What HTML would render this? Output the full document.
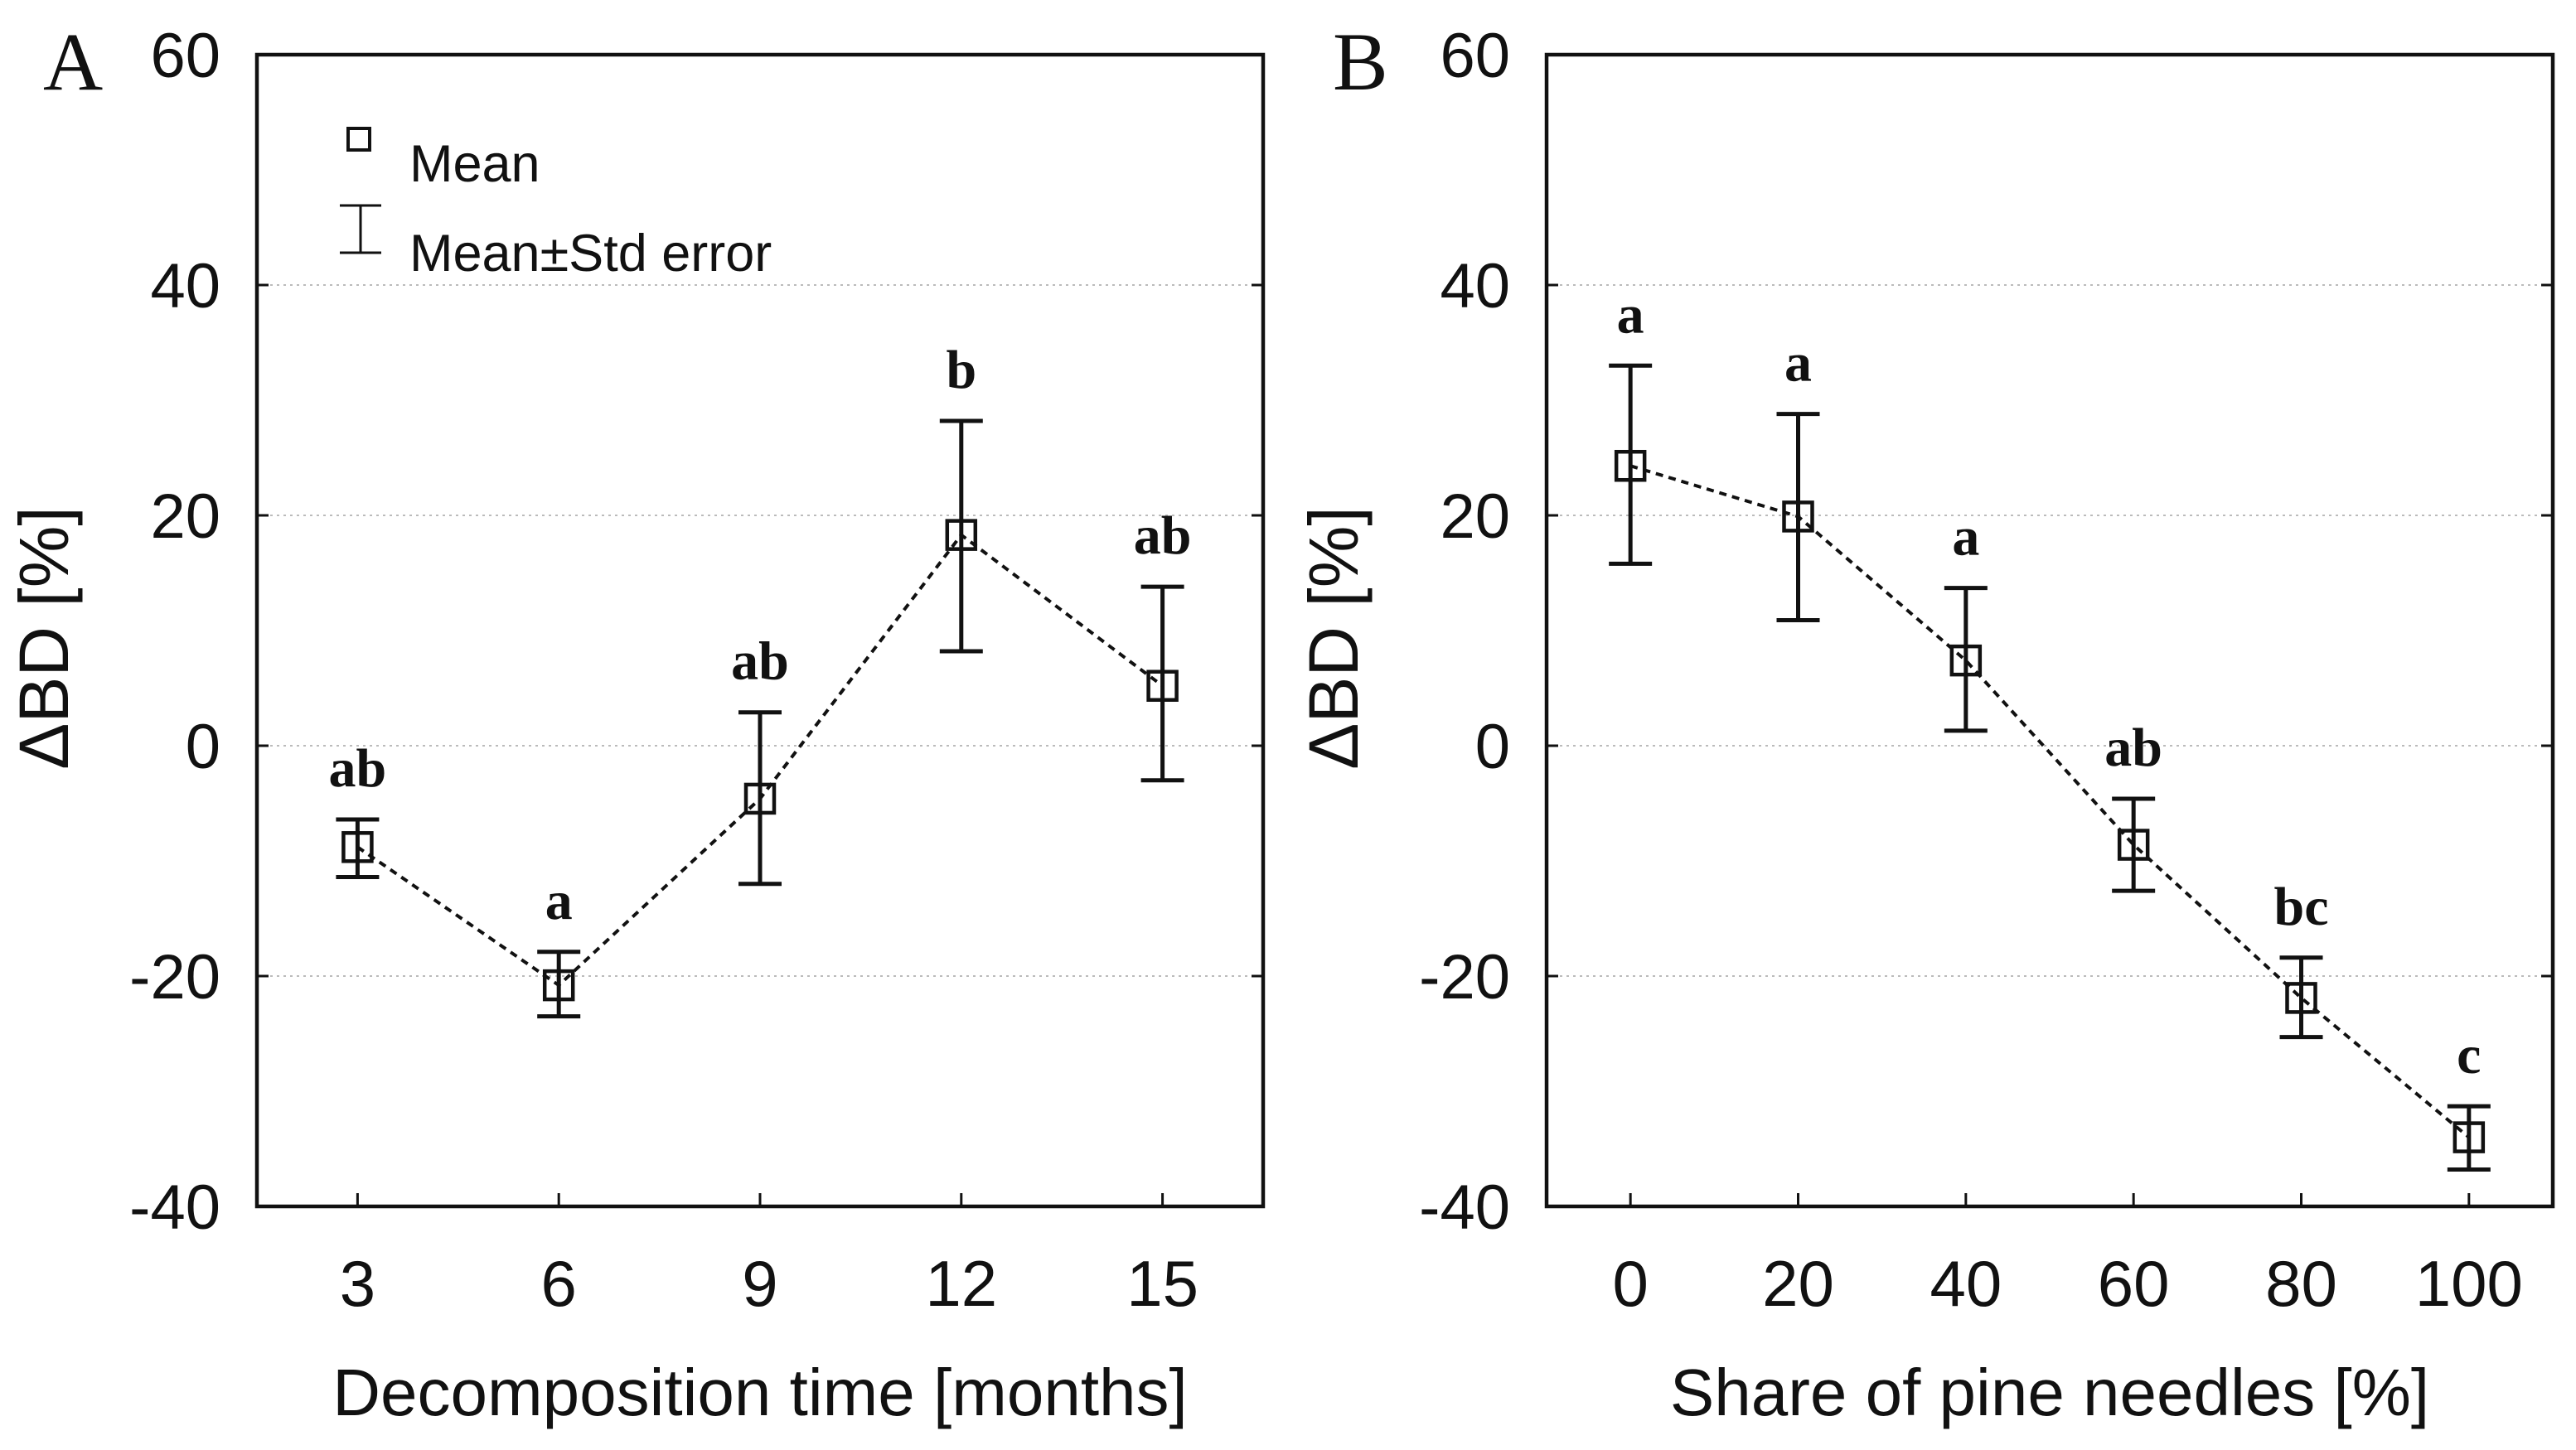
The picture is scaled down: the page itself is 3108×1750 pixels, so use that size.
<!DOCTYPE html>
<html><head><meta charset="utf-8"><style>
html,body{margin:0;padding:0;background:#fff}
svg text{font-family:"Liberation Sans",sans-serif;fill:#111}
</style></head><body>
<svg id="fig" width="3108" height="1745" viewBox="0 0 3108 1745" xmlns="http://www.w3.org/2000/svg"></svg>
<script>
const catsA = [3, 6, 9, 12, 15];
const meanA = [-8.8, -20.8, -4.6, 18.3, 5.2];
const hiA = [-6.4, -17.9, 2.9, 28.2, 13.8];
const loA = [-11.4, -23.5, -12.0, 8.2, -3.0];
const lettersA = ["ab", "a", "ab", "b", "ab"];
const catsB = [0, 20, 40, 60, 80, 100];
const meanB = [24.3, 19.9, 7.4, -8.6, -21.9, -34.0];
const hiB = [33.0, 28.8, 13.7, -4.6, -18.4, -31.3];
const loB = [15.8, 10.9, 1.3, -12.6, -25.3, -36.8];
const lettersB = ["a", "a", "a", "ab", "bc", "c"];
const yTicks = [60, 40, 20, 0, -20, -40];
const gridVals = [40, 20, 0, -20];

const NS = "http://www.w3.org/2000/svg";
const svg = document.getElementById('fig');
function mk(tag, attrs, parent, txt){
  const e = document.createElementNS(NS, tag);
  for (const k in attrs) e.setAttribute(k, attrs[k]);
  if (txt !== undefined) e.textContent = txt;
  (parent || svg).appendChild(e);
  return e;
}

function panel(opts){
  const g = mk('g', {});
  
  
  const L = opts.left, R = opts.right, T = 66, B = 1456;
  const xS = v => L + (v - opts.xmin) / (opts.xmax - opts.xmin) * (R - L);
  const yS = v => B - (v + 40) / 100 * (B - T);
  gridVals.forEach(v => {
    const l = mk('line', {x1: L, x2: R, y1: yS(v), y2: yS(v), stroke: '#bbb', 'stroke-width': 2, 'stroke-dasharray': '3 5'}, g);
    
    
  });
  const fr = mk('rect', {x: L, y: T, width: R - L, height: B - T, fill: 'none', stroke: '#111', 'stroke-width': 4.5}, g);
  
  
  yTicks.forEach(v => {
    mk('line', {x1: L, x2: L + 14, y1: yS(v), y2: yS(v), stroke: '#111', 'stroke-width': 3}, g);
    mk('line', {x1: R - 14, x2: R, y1: yS(v), y2: yS(v), stroke: '#111', 'stroke-width': 3}, g);
    const t = mk('text', {x: L - 44, y: yS(v) + 27, 'text-anchor': 'end', 'font-size': 76}, g, String(v));
    
    
  });
  opts.cats.forEach(c => {
    mk('line', {x1: xS(c), x2: xS(c), y1: B, y2: B - 16, stroke: '#111', 'stroke-width': 3}, g);
    const t = mk('text', {x: xS(c), y: 1576, 'text-anchor': 'middle', 'font-size': 78}, g, String(c));
    
    
  });
  const xt = mk('text', {x: (L + R) / 2, y: 1708, 'text-anchor': 'middle', 'font-size': 80}, g, opts.xtitle);
  
  
  const yx = L - 228, yy = 770;
  const yt = mk('text', {x: yx, y: yy, 'text-anchor': 'middle', 'font-size': 84, transform: `rotate(-90 ${yx} ${yy})`}, g, 'ΔBD [%]');
  
  
  const pl = mk('text', {x: L - 258, y: 108, 'font-size': 100, style: 'font-family:"Liberation Serif",serif'}, g, opts.letter);
  
  
  const pts = opts.cats.map((c, i) => xS(c) + ',' + yS(opts.mean[i])).join(' ');
  const pline = mk('polyline', {points: pts, fill: 'none', stroke: '#111', 'stroke-width': 4, 'stroke-dasharray': '9 7'}, g);
  
  
  opts.cats.forEach((c, i) => {
    const x = xS(c), eg = mk('g', {}, g);
    
    
    mk('line', {x1: x, x2: x, y1: yS(opts.hi[i]), y2: yS(opts.lo[i]), stroke: '#111', 'stroke-width': 5}, eg);
    mk('line', {x1: x - 26, x2: x + 26, y1: yS(opts.hi[i]), y2: yS(opts.hi[i]), stroke: '#111', 'stroke-width': 5}, eg);
    mk('line', {x1: x - 26, x2: x + 26, y1: yS(opts.lo[i]), y2: yS(opts.lo[i]), stroke: '#111', 'stroke-width': 5}, eg);
    const m = mk('rect', {x: x - 17, y: yS(opts.mean[i]) - 17, width: 34, height: 34, fill: 'none', stroke: '#111', 'stroke-width': 4.5}, g);
    
    
    const lt = mk('text', {x: x, y: yS(opts.hi[i]) - 40, 'text-anchor': 'middle', 'font-size': 66, 'font-weight': 'bold', style: 'font-family:"Liberation Serif",serif'}, g, opts.letters[i]);
    
    
  });
  return g;
}

panel({name: 'panel-a', left: 310, right: 1524, xmin: 1.5, xmax: 16.5, cats: catsA, mean: meanA, hi: hiA, lo: loA, letters: lettersA, xtitle: 'Decomposition time [months]', letter: 'A'});
panel({name: 'panel-b', left: 1866, right: 3080, xmin: -10, xmax: 110, cats: catsB, mean: meanB, hi: hiB, lo: loB, letters: lettersB, xtitle: 'Share of pine needles [%]', letter: 'B'});

const lg = mk('g', {});


mk('rect', {x: 420, y: 155, width: 26, height: 26, fill: 'none', stroke: '#111', 'stroke-width': 4}, lg);
const l1 = mk('text', {x: 494, y: 219, 'font-size': 63}, lg, 'Mean');


mk('line', {x1: 435, x2: 435, y1: 248, y2: 305, stroke: '#111', 'stroke-width': 3}, lg);
mk('line', {x1: 410, x2: 460, y1: 248, y2: 248, stroke: '#111', 'stroke-width': 3}, lg);
mk('line', {x1: 410, x2: 460, y1: 305, y2: 305, stroke: '#111', 'stroke-width': 3}, lg);
const l2 = mk('text', {x: 494, y: 327, 'font-size': 63}, lg, 'Mean±Std error');


</script>
</body></html>
